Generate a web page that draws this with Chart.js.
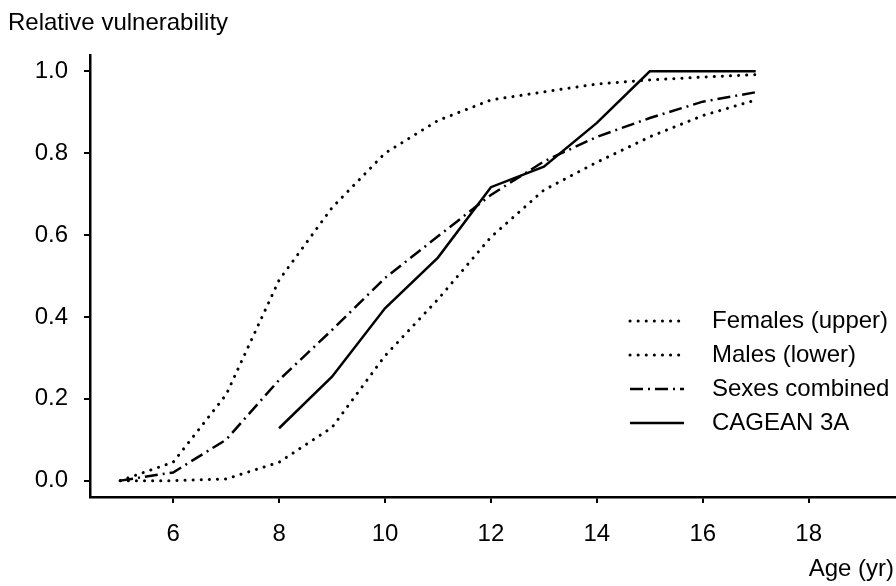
<!DOCTYPE html>
<html>
<head>
<meta charset="utf-8">
<script src="https://cdn.jsdelivr.net/npm/chart.js"></script>
<style>
  html, body { margin: 0; padding: 0; background: #fff; }
  #wrap { width: 896px; height: 586px; }
</style>
</head>
<body>
<div id="wrap"><canvas id="chart" width="896" height="586"></canvas></div>
<script>
// ages (yr) and relative vulnerability
const ages = [5, 6, 7, 8, 9, 10, 11, 12, 13, 14, 15, 16, 17];
const females = [0.0, 0.045, 0.21, 0.49, 0.667, 0.80, 0.88, 0.93, 0.95, 0.969, 0.979, 0.986, 0.992];
const males = [0.0, 0.0, 0.004, 0.045, 0.13, 0.305, 0.443, 0.595, 0.71, 0.778, 0.84, 0.892, 0.93];
const combined = [0.0, 0.02, 0.10, 0.246, 0.368, 0.495, 0.597, 0.698, 0.78, 0.84, 0.886, 0.926, 0.949];
const cageanAges = [8, 9, 10, 11, 12, 13, 14, 15, 16, 17];
const cagean = [0.128, 0.254, 0.421, 0.545, 0.717, 0.767, 0.874, 1.0, 1.0, 1.0];

const seriesLabels = ['Females (upper)', 'Males (lower)', 'Sexes combined', 'CAGEAN 3A'];
const xTicks = [6, 8, 10, 12, 14, 16, 18];
const yTicks = [0.0, 0.2, 0.4, 0.6, 0.8, 1.0];

const FONT = "'Liberation Sans', Arial, Helvetica, sans-serif";

function pts(xs, ys) {
    return xs.map((x, i) => ({ x: x, y: ys[i] }));
}

const dotted = [0.1, 8];
const dashDot = [13, 5, 2, 5];

// legend + axis captions drawn straight on the canvas
const extras = {
    id: 'extras',
    afterDatasetsDraw(chart) {
        const ctx = chart.ctx;
        ctx.save();
        ctx.fillStyle = '#000';
        ctx.font = '24px ' + FONT;
        ctx.textBaseline = 'middle';
        ctx.textAlign = 'left';
        ctx.fillText('Relative vulnerability', 8, 23);
        ctx.textAlign = 'right';
        ctx.fillText('Age (yr)', 894, 569);

        ctx.textAlign = 'left';
        chart.data.datasets.forEach((ds, i) => {
            const y = 321 + i * 34;
            ctx.beginPath();
            ctx.strokeStyle = '#000';
            ctx.lineWidth = ds.borderWidth;
            ctx.lineCap = ds.borderCapStyle || 'butt';
            ctx.setLineDash(ds.borderDash || []);
            ctx.moveTo(630, y);
            ctx.lineTo(684, y);
            ctx.stroke();
            ctx.setLineDash([]);
            ctx.fillText(ds.label, 712, y);
        });
        ctx.restore();
    }
};

new Chart(document.getElementById('chart').getContext('2d'), {
    type: 'line',
    data: {
        datasets: [
            { label: seriesLabels[0], data: pts(ages, females), borderColor: '#000', borderWidth: 3,
              borderDash: dotted, borderCapStyle: 'round' },
            { label: seriesLabels[1], data: pts(ages, males), borderColor: '#000', borderWidth: 3,
              borderDash: dotted, borderCapStyle: 'round' },
            { label: seriesLabels[2], data: pts(ages, combined), borderColor: '#000', borderWidth: 2.5,
              borderDash: dashDot },
            { label: seriesLabels[3], data: pts(cageanAges, cagean), borderColor: '#000', borderWidth: 2.5 }
        ]
    },
    options: {
        responsive: false,
        animation: false,
        layout: { padding: { top: 55, right: 1, left: 0, bottom: 0 } },
        elements: { point: { radius: 0 }, line: { tension: 0, fill: false } },
        plugins: {
            legend: { display: false },
            tooltip: { enabled: false }
        },
        scales: {
            x: {
                type: 'linear',
                min: 4.43,
                max: 19.63,
                afterBuildTicks: (s) => { s.ticks = xTicks.map(v => ({ value: v })); },
                afterFit: (s) => { s.height = 89; },
                grid: { display: true, drawOnChartArea: false, drawTicks: true, tickLength: 6, color: '#000', lineWidth: 2 },
                border: { display: true, color: '#000', width: 2.5 },
                ticks: { color: '#000', font: { family: FONT, size: 24 }, padding: 17, maxRotation: 0 }
            },
            y: {
                type: 'linear',
                min: -0.04,
                max: 1.04,
                afterBuildTicks: (s) => { s.ticks = yTicks.map(v => ({ value: v })); },
                afterFit: (s) => { s.width = 90; },
                grid: { display: true, drawOnChartArea: false, drawTicks: true, tickLength: 6, color: '#000', lineWidth: 2 },
                border: { display: true, color: '#000', width: 2.5 },
                ticks: { color: '#000', font: { family: FONT, size: 24 }, padding: 16,
                         callback: (v) => Number(v).toFixed(1) }
            }
        }
    },
    plugins: [extras]
});
</script>
</body>
</html>
